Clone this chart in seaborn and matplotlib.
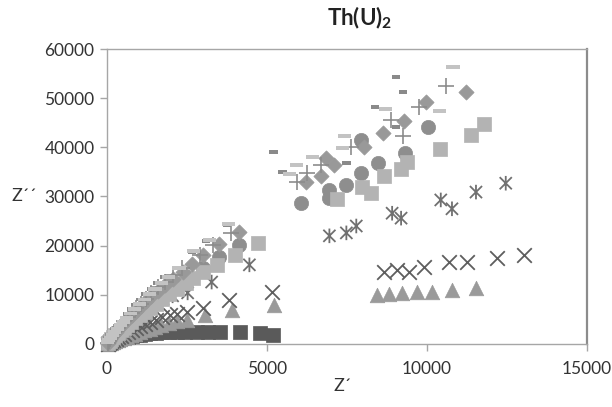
import numpy as np
import pandas as pd
import seaborn as sns
import matplotlib.pyplot as plt
from matplotlib.path import Path
from matplotlib.markers import MarkerStyle

# ---- impedance data (Z' , Z'') for each measurement series ----
dsq_x = [20, 50, 90, 140, 200, 270, 350, 440, 540, 650, 770, 900, 1040, 1190, 1350, 1530, 1730,
         1950, 2200, 2440, 2810, 3160, 3530, 4160, 4780, 5190]
dsq_y = [100, 250, 400, 560, 720, 880, 1040, 1200, 1360, 1510, 1650, 1790, 1920, 2040, 2150, 2250, 2340,
         2410, 2460, 2490, 2500, 2490, 2460, 2400, 2150, 1850]

tri_x = [30, 70, 120, 180, 250, 330, 420, 520, 630, 750, 880, 1020, 1170, 1330, 1500, 1700, 1950,
         2200, 2490, 3050, 3920, 5230,
         8440, 8820, 9220, 9690, 10160, 10780, 11530]
tri_y = [60, 150, 270, 420, 600, 800, 1020, 1260, 1520, 1800, 2100, 2420, 2760, 3120, 3500, 3900, 4350,
         4650, 4900, 5900, 6900, 7930,
         10000, 10200, 10400, 10600, 10600, 11000, 11400]

xm_x = [20, 50, 90, 140, 200, 270, 350, 440, 540, 650, 770, 900, 1040, 1190, 1350, 1530, 1730, 1960,
        2200, 2490, 2990, 3800, 5170,
        8660, 9060, 9440, 9910, 10690, 11250, 12180, 13020]
xm_y = [80, 200, 370, 580, 820, 1080, 1370, 1690, 2030, 2400, 2790, 3200, 3620, 4050, 4490, 4940, 5400, 5850,
        6200, 6600, 7320, 8950, 10600,
        14650, 15050, 14650, 15660, 16680, 16680, 17500, 18100]

ast_x = [20, 50, 90, 140, 200, 270, 350, 440, 540, 650, 770, 900, 1040, 1190, 1350, 1530, 1750,
         2050, 2520, 3270, 4450,
         6950, 7480, 7790, 8910, 9190, 10430, 10780, 11530, 12460]
ast_y = [150, 350, 600, 900, 1250, 1650, 2100, 2600, 3150, 3750, 4400, 5100, 5850, 6650, 7450, 8250, 9100,
         9800, 10400, 12600, 16100,
         22000, 22600, 24000, 26600, 25600, 29300, 27500, 30900, 32700]

cir_x = [30, 70, 120, 180, 250, 330, 420, 520, 630, 750, 880, 1020, 1170, 1340, 1520, 1720, 1950,
         2200, 2500, 2990, 3500, 4110,
         6070, 6950, 6950, 7480, 7940, 7940, 8470, 9310, 10030]
cir_y = [200, 500, 850, 1250, 1700, 2200, 2750, 3350, 4000, 4700, 5450, 6250, 7100, 8000, 9000, 10000, 11100,
         12300, 13700, 15500, 17700, 20100,
         28700, 29700, 31300, 32300, 41500, 34800, 36800, 38800, 44200]

lsq_x = [40, 80, 130, 190, 260, 340, 430, 530, 640, 760, 890, 1030, 1180, 1350, 1530, 1730, 1950,
         2200, 2480, 2680, 3000, 3430, 4000, 4730,
         7200, 7970, 8250, 8660, 9190, 9380, 10400, 11370, 11770]
lsq_y = [300, 600, 950, 1350, 1800, 2300, 2800, 3350, 3950, 4550, 5200, 5900, 6600, 7400, 8200, 9100, 10100,
         11200, 12400, 13400, 14600, 16100, 18200, 20500,
         29500, 31900, 30700, 34200, 35600, 37000, 39700, 42500, 44700]

dia_x = [20, 50, 90, 140, 200, 270, 350, 440, 540, 650, 770, 900, 1050, 1210, 1390, 1590, 1810,
         2060, 2370, 2650, 2990, 3500, 4140,
         6230, 6700, 6850, 7100, 8040, 8630, 9280, 9970, 11210]
dia_y = [200, 550, 950, 1400, 1900, 2450, 3050, 3700, 4400, 5150, 5950, 6800, 7700, 8650, 9700, 10800, 12000,
         13300, 14600, 16300, 18100, 20300, 22800,
         33000, 34200, 37800, 36400, 40100, 42900, 45400, 49200, 51300]

pls_x = [20, 50, 90, 140, 200, 270, 350, 440, 540, 650, 770, 900, 1050, 1210, 1390, 1590, 1810,
         2060, 2350, 2900, 3300, 3860,
         5950, 6260, 6700, 7630, 8880, 9250, 9750, 10590]
pls_y = [300, 650, 1050, 1500, 2000, 2600, 3250, 3950, 4700, 5500, 6350, 7250, 8200, 9200, 10300, 11500, 12700,
         14000, 15500, 18200, 20200, 22600,
         33000, 34800, 36400, 40100, 45600, 42300, 48200, 52500]

ddsh_x = [15, 40, 80, 130, 190, 260, 340, 430, 530, 640, 760, 890, 1030, 1190, 1370, 1570, 1800,
          2150, 2650, 3100, 3740,
          5200, 5480, 7480, 8380, 9030, 9030, 9250]
ddsh_y = [400, 800, 1300, 1850, 2450, 3100, 3800, 4550, 5350, 6200, 7100, 8050, 9050, 10100, 11200, 12400, 13700,
          15500, 18700, 21000, 24200,
          39050, 35000, 36800, 48200, 44100, 54300, 51300]

ldsh_x = [25, 60, 110, 170, 240, 320, 410, 510, 620, 740, 870, 1010, 1160, 1320, 1500, 1700, 1930,
          2250, 2700, 3200, 3800,
          5700, 5920, 6420, 7350, 7410, 8690, 10400, 10810]
ldsh_y = [400, 800, 1300, 1850, 2450, 3100, 3800, 4550, 5350, 6200, 7100, 8050, 9050, 10100, 11200, 12400, 13700,
          15500, 18900, 21200, 24400,
          34600, 36400, 38000, 39900, 42300, 47800, 47400, 56300]

x_ticks = [0, 5000, 10000, 15000]
y_ticks = [0, 10000, 20000, 30000, 40000, 50000, 60000]

# ---- custom marker shapes ----
star_path = Path([(-1, -1), (1, 1), (-1, 1), (1, -1), (0, -1.2), (0, 1.2)],
                 [Path.MOVETO, Path.LINETO, Path.MOVETO, Path.LINETO, Path.MOVETO, Path.LINETO])
short_dash = Path([(-1, -0.45), (1, -0.45), (1, 0.45), (-1, 0.45), (-1, -0.45)],
                  [Path.MOVETO, Path.LINETO, Path.LINETO, Path.LINETO, Path.CLOSEPOLY])
long_dash = Path([(-1, -0.3), (1, -0.3), (1, 0.3), (-1, 0.3), (-1, -0.3)],
                 [Path.MOVETO, Path.LINETO, Path.LINETO, Path.LINETO, Path.CLOSEPOLY])

sns.set_theme(style="white")
plt.rcParams['font.family'] = ['Lato', 'DejaVu Sans']
plt.rcParams['mathtext.fontset'] = 'custom'
plt.rcParams['mathtext.rm'] = 'Lato'
plt.rcParams['mathtext.bf'] = 'Lato:bold'

fig = plt.figure(figsize=(6.12, 4.07), dpi=100)
ax = fig.add_axes([0.1748, 0.1548, 0.7844, 0.7248])

series = [
    (dsq_x, dsq_y, dict(marker='s', s=88, color='#5a5a5a', edgecolor='#5a5a5a', linewidth=0.5)),
    (tri_x, tri_y, dict(marker='^', s=110, color='#9a9a9a', edgecolor='#9a9a9a', linewidth=0.5)),
    (xm_x, xm_y, dict(marker='x', s=110, color='#5e5e5e', linewidth=1.3)),
    (ast_x, ast_y, dict(marker=MarkerStyle(star_path), s=110, color='#707070',
                        edgecolor='#707070', facecolor='none', linewidth=1.3)),
    (cir_x, cir_y, dict(marker='o', s=105, color='#8e8e8e', edgecolor='#8e8e8e', linewidth=0.5)),
    (lsq_x, lsq_y, dict(marker='s', s=100, color='#b3b3b3', edgecolor='#b3b3b3', linewidth=0.5)),
    (dia_x, dia_y, dict(marker='D', s=60, color='#999999', edgecolor='#999999', linewidth=0.5)),
    (pls_x, pls_y, dict(marker='+', s=130, color='#8c8c8c', linewidth=1.2)),
    (ddsh_x, ddsh_y, dict(marker=MarkerStyle(short_dash), s=36, color='#8a8a8a',
                          edgecolor='none', linewidth=0)),
    (ldsh_x, ldsh_y, dict(marker=MarkerStyle(long_dash), s=90, color='#c3c3c3',
                          edgecolor='none', linewidth=0)),
]

for i, (xs, ys, kw) in enumerate(series):
    df = pd.DataFrame({"Zre": xs, "Zim": ys})
    sns.scatterplot(data=df, x="Zre", y="Zim", ax=ax, legend=False,
                    clip_on=False, zorder=3 + i, **kw)

ax.set_xlim(0, 15000)
ax.set_ylim(0, 60000)
ax.set_xticks(x_ticks)
ax.set_yticks(y_ticks)
ax.set_xticklabels([str(v) for v in x_ticks])
ax.set_yticklabels([str(v) for v in y_ticks])
ax.set_xlabel("")
ax.set_ylabel("")
ax.grid(False)
for side in ['left', 'bottom', 'top', 'right']:
    ax.spines[side].set_color('#a6a6a6')
    ax.spines[side].set_linewidth(1.0)
ax.spines['right'].set_color('#8c8c8c')
ax.spines['right'].set_linewidth(1.6)
ax.tick_params(axis='both', direction='out', length=5, width=1, color='#a6a6a6',
               labelsize=12.5, labelcolor='#333333')
ax.tick_params(axis='y', pad=4, left=True)
ax.tick_params(axis='x', pad=7, bottom=True)

fig.text(360 / 612, 1 - 18 / 407, r"Th(U)$_\mathbf{2}$", ha='center', va='center',
         fontsize=16, fontweight='bold', color='#222222')
fig.text(24 / 612, 1 - 196 / 407, "Z´´", ha='center', va='center', fontsize=13, color='#333333')
fig.text(343 / 612, 1 - 386 / 407, "Z´", ha='center', va='center', fontsize=13, color='#333333')

fig.savefig("out.png", dpi=100, facecolor='white')
